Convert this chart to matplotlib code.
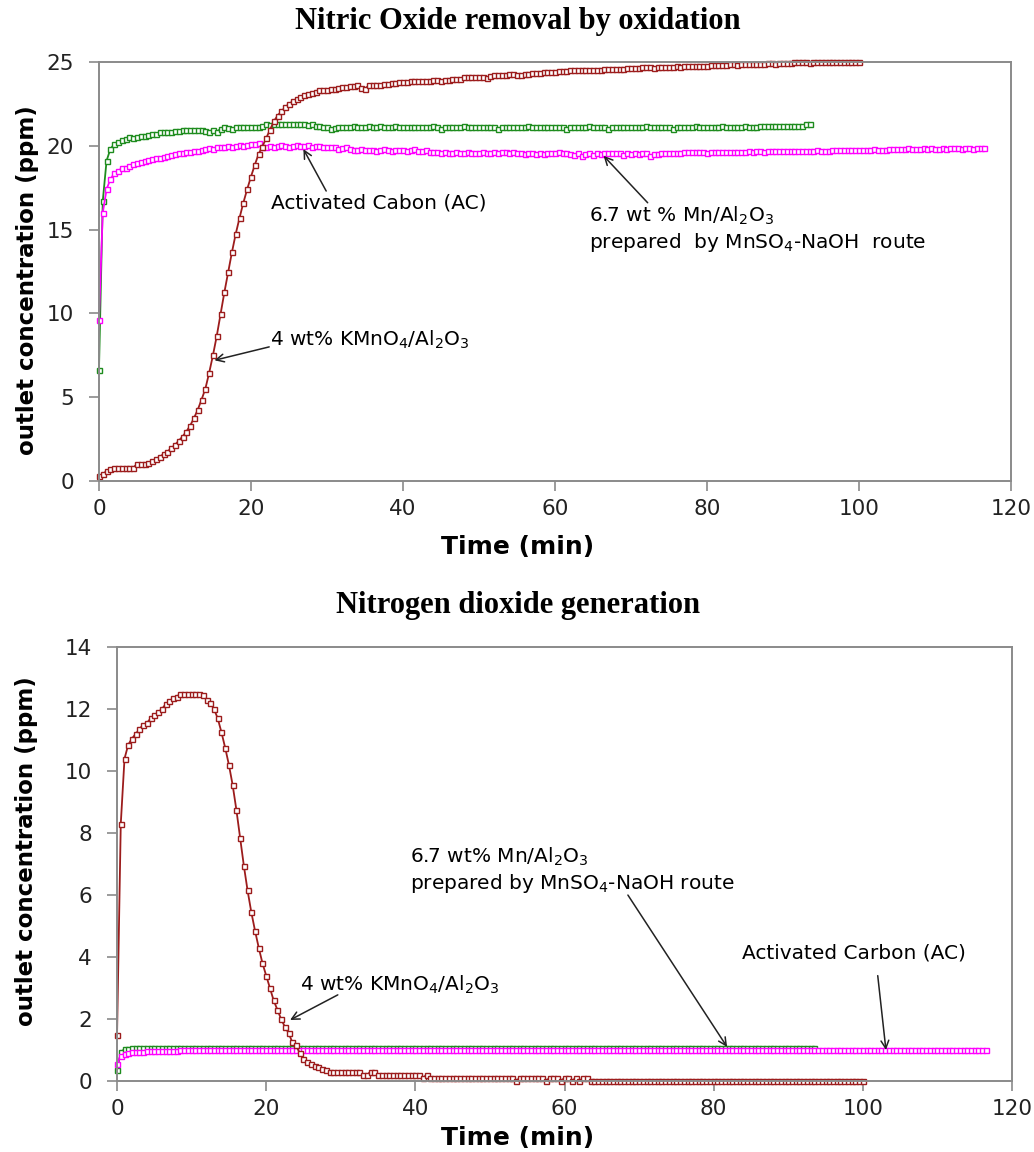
import matplotlib.pyplot as plt
import numpy as np

plt.rcParams['mathtext.default'] = 'regular'

# analyser logs one reading every 0.5 min
STEP = 0.5

# ---- NO outlet concentration (ppm) ----
no_kmno4 = [
    0.3, 0.4, 0.6, 0.7, 0.8, 0.8, 0.8, 0.8, 0.8, 0.8, 1.0, 1.0, 1.0, 1.1, 1.2, 1.3, 1.45, 1.6, 1.75, 1.95,
    2.15, 2.4, 2.65, 2.95, 3.3, 3.75, 4.25, 4.85, 5.5, 6.45, 7.5, 8.65, 9.95, 11.25, 12.45, 13.65, 14.75, 15.7, 16.6, 17.4,
    18.15, 18.85, 19.5, 19.95, 20.45, 20.95, 21.45, 21.8, 22.05, 22.3, 22.5, 22.65, 22.8, 22.9, 23.0, 23.1, 23.15, 23.2, 23.3, 23.3,
    23.35, 23.4, 23.4, 23.45, 23.5, 23.5, 23.55, 23.55, 23.6, 23.45, 23.4, 23.6, 23.6, 23.65, 23.65, 23.7, 23.7, 23.75, 23.75, 23.8,
    23.8, 23.8, 23.85, 23.85, 23.85, 23.85, 23.85, 23.85, 23.9, 23.9, 23.85, 23.9, 23.95, 24.0, 24.0, 24.0, 24.1, 24.1, 24.1, 24.1,
    24.1, 24.1, 24.05, 24.15, 24.2, 24.2, 24.2, 24.25, 24.3, 24.3, 24.2, 24.2, 24.3, 24.3, 24.35, 24.35, 24.35, 24.4, 24.4, 24.4,
    24.4, 24.45, 24.45, 24.45, 24.5, 24.5, 24.5, 24.5, 24.5, 24.5, 24.55, 24.55, 24.55, 24.6, 24.6, 24.6, 24.6, 24.6, 24.6, 24.65,
    24.65, 24.65, 24.65, 24.7, 24.7, 24.7, 24.65, 24.7, 24.7, 24.7, 24.7, 24.7, 24.75, 24.7, 24.75, 24.75, 24.75, 24.75, 24.75, 24.75,
    24.75, 24.8, 24.8, 24.8, 24.8, 24.8, 24.85, 24.85, 24.8, 24.85, 24.85, 24.9, 24.9, 24.9, 24.9, 24.9, 24.95, 24.95, 24.9, 24.95,
    24.95, 24.95, 24.95, 25.0, 25.0, 25.0, 25.0, 24.95, 25.0, 25.0, 25.0, 25.0, 25.0, 25.0, 25.0, 25.0, 25.0, 25.0, 25.0, 25.0,
    25.0,
]
no_mn = [
    6.6, 16.7, 19.1, 19.8, 20.1, 20.2, 20.35, 20.4, 20.5, 20.45, 20.55, 20.6, 20.6, 20.65, 20.7, 20.7, 20.8, 20.85, 20.85, 20.85,
    20.9, 20.9, 20.95, 20.95, 20.95, 20.95, 20.95, 20.95, 20.9, 20.85, 20.95, 20.85, 21.0, 21.1, 21.05, 21.0, 21.1, 21.1, 21.1, 21.1,
    21.1, 21.1, 21.1, 21.2, 21.3, 21.25, 21.3, 21.3, 21.3, 21.3, 21.3, 21.3, 21.3, 21.3, 21.3, 21.25, 21.3, 21.2, 21.2, 21.1,
    21.1, 21.0, 21.05, 21.1, 21.1, 21.1, 21.1, 21.2, 21.1, 21.1, 21.1, 21.2, 21.1, 21.1, 21.2, 21.1, 21.1, 21.1, 21.2, 21.1,
    21.1, 21.1, 21.1, 21.1, 21.1, 21.1, 21.1, 21.1, 21.2, 21.1, 21.0, 21.1, 21.1, 21.1, 21.1, 21.1, 21.2, 21.1, 21.1, 21.1,
    21.1, 21.1, 21.1, 21.1, 21.1, 21.0, 21.1, 21.1, 21.1, 21.1, 21.1, 21.1, 21.1, 21.2, 21.1, 21.1, 21.1, 21.1, 21.1, 21.1,
    21.1, 21.1, 21.1, 21.0, 21.1, 21.1, 21.1, 21.1, 21.1, 21.2, 21.1, 21.1, 21.1, 21.1, 21.0, 21.1, 21.1, 21.1, 21.1, 21.1,
    21.1, 21.1, 21.1, 21.1, 21.2, 21.1, 21.1, 21.1, 21.1, 21.1, 21.1, 21.0, 21.1, 21.1, 21.1, 21.1, 21.1, 21.2, 21.1, 21.1,
    21.1, 21.1, 21.1, 21.1, 21.2, 21.1, 21.1, 21.1, 21.1, 21.1, 21.2, 21.1, 21.1, 21.1, 21.2, 21.2, 21.2, 21.2, 21.2, 21.2,
    21.2, 21.2, 21.2, 21.2, 21.2, 21.2, 21.3, 21.3,
]
no_ac = [
    9.6, 16.0, 17.4, 18.0, 18.35, 18.5, 18.65, 18.7, 18.8, 18.9, 18.95, 19.05, 19.1, 19.15, 19.2, 19.25, 19.3, 19.35, 19.4, 19.45,
    19.5, 19.55, 19.55, 19.6, 19.65, 19.7, 19.7, 19.75, 19.8, 19.85, 19.8, 19.9, 19.95, 19.95, 20.0, 19.95, 20.0, 20.05, 20.0, 20.05,
    20.1, 20.1, 20.15, 19.9, 19.95, 20.0, 19.95, 20.0, 20.05, 20.0, 19.95, 20.0, 20.05, 20.0, 20.0, 20.05, 19.95, 20.0, 20.0, 19.95,
    19.9, 19.95, 19.9, 19.8, 19.85, 19.9, 19.8, 19.75, 19.75, 19.8, 19.75, 19.75, 19.75, 19.7, 19.75, 19.8, 19.75, 19.7, 19.75, 19.75,
    19.75, 19.7, 19.75, 19.8, 19.7, 19.7, 19.75, 19.65, 19.6, 19.6, 19.55, 19.6, 19.55, 19.55, 19.6, 19.55, 19.55, 19.6, 19.55, 19.55,
    19.55, 19.6, 19.55, 19.55, 19.6, 19.55, 19.6, 19.6, 19.55, 19.6, 19.55, 19.55, 19.5, 19.55, 19.55, 19.5, 19.55, 19.5, 19.55, 19.55,
    19.55, 19.6, 19.55, 19.55, 19.5, 19.45, 19.55, 19.4, 19.5, 19.55, 19.45, 19.55, 19.5, 19.55, 19.55, 19.55, 19.55, 19.55, 19.45, 19.55,
    19.5, 19.55, 19.5, 19.55, 19.55, 19.4, 19.5, 19.5, 19.55, 19.55, 19.55, 19.55, 19.55, 19.55, 19.6, 19.6, 19.6, 19.6, 19.6, 19.6,
    19.55, 19.65, 19.6, 19.65, 19.6, 19.65, 19.6, 19.6, 19.65, 19.65, 19.65, 19.7, 19.65, 19.7, 19.7, 19.65, 19.7, 19.7, 19.7, 19.7,
    19.7, 19.7, 19.7, 19.7, 19.7, 19.7, 19.7, 19.7, 19.7, 19.75, 19.7, 19.7, 19.7, 19.75, 19.75, 19.75, 19.75, 19.75, 19.75, 19.75,
    19.75, 19.75, 19.75, 19.75, 19.8, 19.75, 19.75, 19.75, 19.8, 19.8, 19.8, 19.8, 19.8, 19.85, 19.8, 19.8, 19.8, 19.85, 19.8, 19.85,
    19.8, 19.8, 19.85, 19.8, 19.85, 19.85, 19.85, 19.8, 19.85, 19.85, 19.8, 19.85, 19.85, 19.85,
]

# ---- NO2 outlet concentration (ppm) ----
no2_kmno4 = [
    1.5, 8.3, 10.4, 10.85, 11.05, 11.2, 11.35, 11.5, 11.55, 11.7, 11.8, 11.9, 12.0, 12.15, 12.25, 12.35, 12.4, 12.5, 12.5, 12.5,
    12.5, 12.5, 12.5, 12.45, 12.3, 12.2, 12.0, 11.7, 11.25, 10.75, 10.2, 9.55, 8.75, 7.85, 6.95, 6.15, 5.45, 4.85, 4.3, 3.8,
    3.4, 3.0, 2.6, 2.3, 2.0, 1.75, 1.55, 1.25, 1.15, 0.9, 0.7, 0.6, 0.55, 0.5, 0.45, 0.4, 0.35, 0.3, 0.3, 0.3,
    0.3, 0.3, 0.3, 0.3, 0.3, 0.3, 0.2, 0.2, 0.3, 0.3, 0.2, 0.2, 0.2, 0.2, 0.2, 0.2, 0.2, 0.2, 0.2, 0.2,
    0.2, 0.2, 0.1, 0.2, 0.1, 0.1, 0.1, 0.1, 0.1, 0.1, 0.1, 0.1, 0.1, 0.1, 0.1, 0.1, 0.1, 0.1, 0.1, 0.1,
    0.1, 0.1, 0.1, 0.1, 0.1, 0.1, 0.1, 0.0, 0.1, 0.1, 0.1, 0.1, 0.1, 0.1, 0.1, 0.0, 0.1, 0.1, 0.1, 0.0,
    0.1, 0.1, 0.0, 0.1, 0.0, 0.1, 0.1, 0.0, 0.0, 0.0, 0.0, 0.0, 0.0, 0.0, 0.0, 0.0, 0.0, 0.0, 0.0, 0.0,
    0.0, 0.0, 0.0, 0.0, 0.0, 0.0, 0.0, 0.0, 0.0, 0.0, 0.0, 0.0, 0.0, 0.0, 0.0, 0.0, 0.0, 0.0, 0.0, 0.0,
    0.0, 0.0, 0.0, 0.0, 0.0, 0.0, 0.0, 0.0, 0.0, 0.0, 0.0, 0.0, 0.0, 0.0, 0.0, 0.0, 0.0, 0.0, 0.0, 0.0,
    0.0, 0.0, 0.0, 0.0, 0.0, 0.0, 0.0, 0.0, 0.0, 0.0, 0.0, 0.0, 0.0, 0.0, 0.0, 0.0, 0.0, 0.0, 0.0, 0.0,
    0.0,
]
no2_mn = [
    0.35, 0.95, 1.02, 1.04, 1.05, 1.05, 1.06, 1.06, 1.06, 1.07, 1.07, 1.07, 1.07, 1.07, 1.07, 1.07, 1.07, 1.07, 1.07, 1.07,
    1.07, 1.07, 1.07, 1.07, 1.08, 1.07, 1.07, 1.07, 1.07, 1.07, 1.07, 1.08, 1.07, 1.07, 1.07, 1.07, 1.08, 1.08, 1.07, 1.07,
    1.07, 1.07, 1.07, 1.08, 1.07, 1.07, 1.07, 1.07, 1.07, 1.07, 1.08, 1.07, 1.07, 1.07, 1.07, 1.07, 1.07, 1.07, 1.08, 1.07,
    1.07, 1.07, 1.07, 1.07, 1.07, 1.08, 1.07, 1.07, 1.07, 1.07, 1.07, 1.07, 1.07, 1.08, 1.07, 1.07, 1.07, 1.07, 1.07, 1.07,
    1.07, 1.08, 1.07, 1.07, 1.07, 1.07, 1.07, 1.07, 1.07, 1.07, 1.08, 1.08, 1.07, 1.07, 1.07, 1.07, 1.07, 1.07, 1.07, 1.07,
    1.07, 1.07, 1.07, 1.07, 1.08, 1.07, 1.07, 1.07, 1.07, 1.07, 1.07, 1.07, 1.07, 1.07, 1.07, 1.08, 1.07, 1.07, 1.07, 1.07,
    1.07, 1.07, 1.07, 1.08, 1.07, 1.07, 1.07, 1.07, 1.07, 1.07, 1.07, 1.07, 1.08, 1.07, 1.07, 1.07, 1.07, 1.07, 1.07, 1.07,
    1.07, 1.07, 1.07, 1.07, 1.07, 1.08, 1.07, 1.07, 1.07, 1.07, 1.07, 1.07, 1.07, 1.07, 1.08, 1.07, 1.07, 1.07, 1.07, 1.07,
    1.07, 1.07, 1.07, 1.07, 1.07, 1.07, 1.08, 1.07, 1.07, 1.07, 1.07, 1.07, 1.07, 1.07, 1.07, 1.07, 1.07, 1.08, 1.07, 1.07,
    1.07, 1.07, 1.07, 1.07, 1.07, 1.07, 1.07, 1.07,
]
no2_ac = [
    0.55, 0.82, 0.88, 0.91, 0.93, 0.94, 0.95, 0.95, 0.96, 0.96, 0.97, 0.97, 0.97, 0.98, 0.98, 0.98, 0.98, 0.99, 0.99, 0.99,
    0.99, 0.99, 0.99, 1.0, 1.0, 1.0, 1.0, 1.0, 1.0, 1.0, 1.0, 1.0, 1.0, 1.0, 1.0, 1.0, 1.0, 1.0, 1.0, 1.0,
    1.0, 1.0, 1.0, 1.0, 1.0, 1.0, 1.0, 1.0, 1.0, 1.0, 1.0, 1.0, 1.0, 1.0, 1.0, 1.0, 1.0, 1.0, 1.0, 1.0,
    1.0, 1.0, 1.0, 1.0, 1.0, 1.0, 1.0, 1.0, 0.99, 1.0, 1.0, 1.0, 1.0, 1.0, 1.0, 1.0, 1.0, 1.0, 1.0, 1.0,
    1.0, 1.0, 1.0, 1.0, 1.0, 1.0, 1.0, 1.0, 1.0, 1.0, 1.0, 1.0, 1.0, 1.0, 1.0, 1.0, 1.0, 1.0, 1.0, 1.0,
    1.0, 1.0, 1.0, 1.0, 1.0, 1.0, 1.0, 1.0, 1.0, 1.0, 1.0, 1.0, 1.0, 1.0, 1.0, 1.0, 1.0, 1.0, 1.0, 1.0,
    1.0, 1.0, 1.0, 1.0, 1.0, 1.0, 1.0, 0.99, 1.0, 1.0, 1.0, 1.0, 1.0, 1.0, 1.0, 1.0, 1.0, 1.0, 1.0, 1.0,
    1.0, 1.0, 1.0, 1.0, 1.0, 1.0, 1.0, 1.0, 1.0, 1.0, 1.0, 1.0, 1.0, 1.0, 1.0, 1.0, 1.0, 1.0, 1.0, 1.0,
    1.0, 1.0, 1.0, 1.0, 1.0, 1.0, 1.0, 1.0, 1.0, 1.0, 1.0, 1.0, 1.0, 1.0, 1.0, 1.0, 1.0, 1.0, 1.0, 1.0,
    1.0, 1.0, 1.0, 1.0, 1.0, 1.0, 1.0, 1.0, 1.0, 1.0, 1.0, 1.0, 1.0, 1.0, 1.0, 1.0, 1.0, 1.0, 1.0, 1.0,
    1.0, 1.0, 1.0, 1.0, 1.0, 1.0, 1.0, 1.0, 1.0, 1.0, 1.0, 1.0, 1.0, 1.0, 1.0, 1.0, 1.0, 1.0, 1.0, 1.0,
    1.0, 1.0, 1.0, 1.0, 1.0, 1.0, 1.0, 1.0, 1.0, 1.0, 1.0, 1.0, 1.0, 1.0,
]

BROWN = "#9c1c1c"
GREEN = "#1e8c1e"
MAGENTA = "#ff00ff"
AXGRAY = "#8a8a8a"

LABEL_FONT = ["DejaVu Sans"]
TITLE_FONT = ["Liberation Serif", "DejaVu Serif"]
NOTE_SIZE = 14.5


def minutes(vals):
    return np.arange(len(vals)) * STEP


def trace(ax, vals, color):
    ax.plot(minutes(vals), vals, color=color, lw=1.3, marker="s", ms=3.6,
            mfc="white", mec=color, mew=1.0, clip_on=False)


def style(ax, ymax, ystep):
    ax.set_xlim(0, 120)
    ax.set_ylim(0, ymax)
    ax.set_xticks(np.arange(0, 121, 20))
    ax.set_yticks(np.arange(0, ymax + 0.1, ystep))
    for s in ax.spines.values():
        s.set_color(AXGRAY)
        s.set_linewidth(1.4)
    ax.tick_params(direction="out", length=7, width=1.2, color=AXGRAY,
                   labelsize=15.5, labelcolor="#222222")
    ax.tick_params(axis="y", pad=11)
    ax.tick_params(axis="x", pad=6)
    ax.set_ylabel("outlet concentration (ppm)", family=LABEL_FONT,
                  fontweight="bold", fontsize=16.5)
    ax.set_xlabel("Time (min)", family=LABEL_FONT, fontweight="bold", fontsize=18)


def pointer(ax, head, tail):
    ax.annotate("", xy=head, xytext=tail,
                arrowprops=dict(arrowstyle="->", color="#222222", lw=1.1,
                                shrinkA=0, shrinkB=0, mutation_scale=14))


fig = plt.figure(figsize=(10.34, 11.52), dpi=100)

# top panel: NO removal
ax1 = fig.add_axes([0.0957, 0.5825, 0.8820, 0.3637])
trace(ax1, no_mn, GREEN)
trace(ax1, no_ac, MAGENTA)
trace(ax1, no_kmno4, BROWN)
style(ax1, 25, 5)
ax1.yaxis.set_label_coords(-0.066, 0.48)
ax1.xaxis.set_label_coords(0.459, -0.128)

ax1.text(22.7, 16.6, "Activated Cabon (AC)", fontsize=NOTE_SIZE, va="center", ha="left")
pointer(ax1, (26.9, 19.8), (29.9, 17.3))
ax1.text(64.5, 15.0, "6.7 wt % Mn/Al$_2$O$_3$\nprepared  by MnSO$_4$-NaOH  route",
         fontsize=NOTE_SIZE, va="center", ha="left", linespacing=1.25)
pointer(ax1, (66.4, 19.4), (72.2, 16.6))
ax1.text(22.5, 8.4, "4 wt% KMnO$_4$/Al$_2$O$_3$", fontsize=NOTE_SIZE, va="center", ha="left")
pointer(ax1, (15.2, 7.2), (22.4, 8.0))

fig.text(0.501, 1 - 22 / 1152, "Nitric Oxide removal by oxidation", ha="center",
         va="center", family=TITLE_FONT, fontweight="bold", fontsize=22)

# bottom panel: NO2 generation
ax2 = fig.add_axes([0.1132, 0.0616, 0.8655, 0.3767])
trace(ax2, no2_mn, GREEN)
trace(ax2, no2_ac, MAGENTA)
trace(ax2, no2_kmno4, BROWN)
style(ax2, 14, 2)
ax2.yaxis.set_label_coords(-0.088, 0.53)
ax2.xaxis.set_label_coords(0.447, -0.104)

ax2.text(39.3, 6.8, "6.7 wt% Mn/Al$_2$O$_3$\nprepared by MnSO$_4$-NaOH route",
         fontsize=NOTE_SIZE, va="center", ha="left", linespacing=1.25)
pointer(ax2, (81.8, 1.1), (68.5, 6.0))
ax2.text(83.8, 4.14, "Activated Carbon (AC)", fontsize=NOTE_SIZE, va="center", ha="left")
pointer(ax2, (103.1, 1.0), (102.0, 3.4))
ax2.text(24.5, 3.1, "4 wt% KMnO$_4$/Al$_2$O$_3$", fontsize=NOTE_SIZE, va="center", ha="left")
pointer(ax2, (23.2, 1.97), (29.6, 2.78))

fig.text(0.501, 1 - 605 / 1152, "Nitrogen dioxide generation", ha="center",
         va="center", family=TITLE_FONT, fontweight="bold", fontsize=22)

fig.savefig("out.png", dpi=100, facecolor="white")
